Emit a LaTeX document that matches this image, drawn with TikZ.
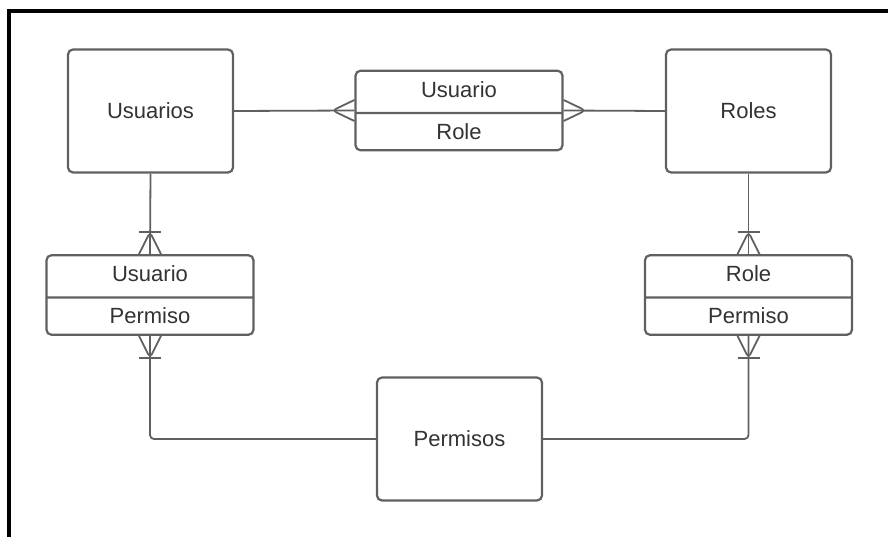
\documentclass[tikz,border=0pt]{standalone}
\usepackage{fontspec}
\setmainfont{Liberation Sans}
\usepackage{xcolor}
\usetikzlibrary{calc,shapes.multipart}
\definecolor{linea}{HTML}{606060}
\definecolor{texto}{HTML}{333333}

\begin{document}
\begin{tikzpicture}[x=1pt, y=-1pt,
    entidad/.style={draw=linea, line width=2.2pt, rounded corners=5pt, fill=white,
      minimum width=165pt, minimum height=123pt, text=texto,
      font=\fontsize{22}{26}\selectfont},
    tabla/.style={draw=linea, line width=2.2pt, rounded corners=5pt, fill=white,
      rectangle split, rectangle split parts=2, minimum width=207pt,
      text height=16pt, text depth=5pt, inner ysep=9.5pt, text=texto,
      font=\fontsize{22}{26}\selectfont},
    enlace/.style={draw=linea, line width=1.8pt, rounded corners=4pt}]
  \useasboundingbox (0,0) rectangle (888,537);
  % outer frame, only left and top
  \draw[black, line width=4pt] (8.5,537) -- (8.5,11.5) -- (888,11.5);
  % entities
  \node[entidad] (usuarios) at (150.5,111) {Usuarios};
  \node[entidad] (roles) at (748.5,111) {Roles};
  \node[entidad] (permisos) at (459.5,439) {Permisos};
  % join tables
  \node[tabla] (usuariorole) at (459,110.5) {Usuario \nodepart{two} Role};
  \node[tabla] (usuariopermiso) at (150,295) {Usuario \nodepart{two} Permiso};
  \node[tabla] (rolepermiso) at (748.5,295) {Role \nodepart{two} Permiso};
  % connectors
  \draw[enlace] (usuarios.east) -- (usuariorole.west);
  \draw[enlace] (usuariorole.east) -- (roles.west);
  \draw[enlace] (usuarios.south) -- (usuariopermiso.north);
  \draw[enlace] (roles.south) -- (rolepermiso.north);
  \draw[enlace] (usuariopermiso.south) |- (permisos.west);
  \draw[enlace] (rolepermiso.south) |- (permisos.east);
  % crow's feet, many
  \draw[enlace] ($(usuariorole.west)+(0,-10.5)$) -- ($(usuariorole.west)+(-22,0)$) -- ($(usuariorole.west)+(0,10.5)$);
  \draw[enlace] ($(usuariorole.east)+(0,-10.5)$) -- ($(usuariorole.east)+(22,0)$) -- ($(usuariorole.east)+(0,10.5)$);
  % crow's feet, one or many
  \foreach \n/\a/\s in {usuariopermiso/north/-1, usuariopermiso/south/1, rolepermiso/north/-1, rolepermiso/south/1} {
    \draw[enlace] ($(\n.\a)+(-11,0)$) -- ($(\n.\a)+(0,\s*22)$) -- ($(\n.\a)+(11,0)$);
    \draw[enlace] ($(\n.\a)+(-11,\s*22)$) -- ($(\n.\a)+(11,\s*22)$);
  }
\end{tikzpicture}
\end{document}
